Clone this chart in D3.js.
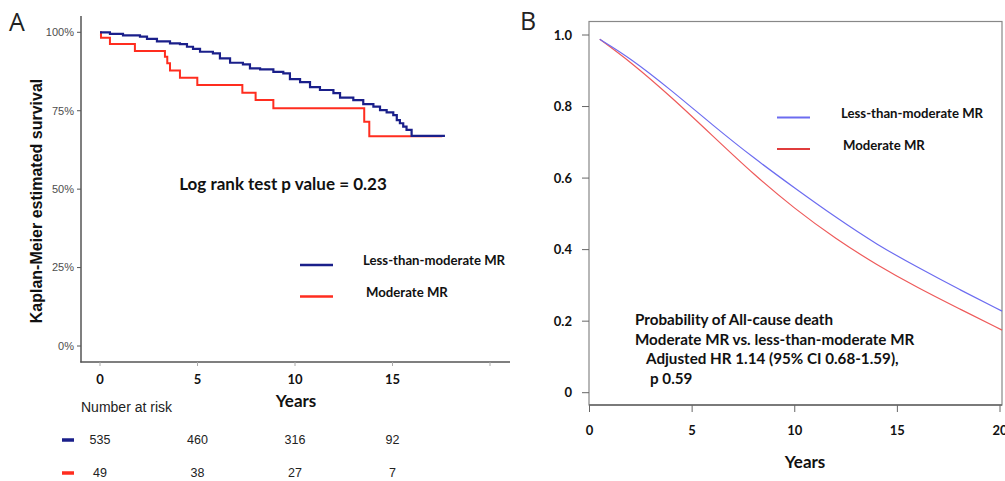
<!DOCTYPE html>
<html><head><meta charset="utf-8">
<script src="https://cdn.jsdelivr.net/npm/d3@7"></script>
<style>body{margin:0;background:#fff}svg{display:block}</style>
</head><body>
<svg id="c" width="1005" height="481"></svg>
<script>
// ---------- Panel A data (Kaplan-Meier) ----------
const kmTimesBlue = [0,0.51,1.18,2.05,2.41,2.92,3.59,4.10,4.46,4.77,5.13,5.79,6.15,6.67,7.33,7.69,8.21,8.89,9.40,9.74,10.26,10.77,11.28,11.97,12.31,12.99,13.50,14.02,14.36,14.70,15.04,15.22,15.38,15.55,15.72,15.98,17.69];
const kmSurvBlue  = [1.0,0.995,0.990,0.986,0.979,0.971,0.965,0.962,0.954,0.947,0.938,0.933,0.917,0.903,0.898,0.885,0.882,0.874,0.869,0.851,0.841,0.825,0.816,0.806,0.792,0.784,0.771,0.763,0.752,0.745,0.736,0.720,0.710,0.699,0.689,0.670,0.670];
const kmTimesRed = [0,0.05,0.51,1.79,3.33,3.45,3.59,4.10,4.99,7.30,7.98,8.89,13.55,13.81,17.55];
const kmSurvRed  = [1.0,0.983,0.963,0.940,0.922,0.901,0.878,0.855,0.832,0.807,0.784,0.758,0.715,0.669,0.669];
const kmYTicks = [0,0.25,0.5,0.75,1];
const kmXTicks = [0,5,10,15,20];
const kmXLabels = ["0","5","10","15",""];
const riskTimes = [0,5,10,15];
const riskBlue = [535,460,316,92];
const riskRed = [49,38,27,7];
const seriesNames = ["Less-than-moderate MR","Moderate MR"];

// ---------- Panel B data (adjusted curves) ----------
const bTimes = [0.5,2,4,6,8,10,12,14,16,18,20.1];
const bBlue  = [0.988,0.935,0.845,0.748,0.656,0.572,0.490,0.414,0.350,0.289,0.228];
const bRed   = [0.988,0.925,0.826,0.718,0.610,0.514,0.430,0.357,0.293,0.235,0.175];
const bYTicks = [0,0.2,0.4,0.6,0.8,1.0];
const bYLabels = ["0","0.2","0.4","0.6","0.8","1.0"];
const bXTicks = [0,5,10,15,20];
const bTextLines = ["Probability of All-cause death","Moderate MR vs. less-than-moderate MR","Adjusted HR 1.14 (95% CI 0.68-1.59),","p 0.59"];

const svg = d3.select("#c");
const calib = "Lato, 'Open Sans', sans-serif";
const arial = "'Liberation Sans', Arial, sans-serif";

// ================= PANEL A =================
const xA = d3.scaleLinear().domain([0,20]).range([100,490]);
const yA = d3.scaleLinear().domain([0,1]).range([346,32.3]);
const gA = svg.append("g");

gA.append("text").attr("x",9).attr("y",31).text("A")
  .style("font-family","'Open Sans', sans-serif").style("font-size","25px").style("fill","#222");

gA.append("line").attr("x1",81).attr("x2",81).attr("y1",16).attr("y2",362.5).attr("stroke","#555").attr("stroke-width",1.5);
gA.append("line").attr("x1",80.3).attr("x2",510).attr("y1",362).attr("y2",362).attr("stroke","#555").attr("stroke-width",1.5);

kmYTicks.forEach(v=>{
  gA.append("line").attr("x1",77).attr("x2",81).attr("y1",yA(v)).attr("y2",yA(v)).attr("stroke","#555").attr("stroke-width",1);
  gA.append("text").attr("x",74).attr("y",yA(v)).attr("dy","0.35em").attr("text-anchor","end")
    .text(d3.format(".0%")(v)).style("font-family",arial).style("font-size","11px").style("fill","#4d4d4d");
});
kmXTicks.forEach((v,i)=>{
  gA.append("line").attr("x1",xA(v)).attr("x2",xA(v)).attr("y1",362).attr("y2",366).attr("stroke","#aaa").attr("stroke-width",1);
  gA.append("text").attr("x",xA(v)).attr("y",379).attr("dy","0.35em").attr("text-anchor","middle")
    .text(kmXLabels[i]).style("font-family",calib).style("font-weight","bold").style("font-size","13px").style("fill","#111");
});
gA.append("text").attr("x",296).attr("y",401).attr("dy","0.35em").attr("text-anchor","middle").text("Years")
  .style("font-family",calib).style("font-weight","bold").style("font-size","17px").style("fill","#111");
gA.append("text").attr("transform","translate(36,201) rotate(-90)").attr("dy","0.35em").attr("text-anchor","middle")
  .text("Kaplan-Meier estimated survival").style("font-family",arial).style("font-weight","bold").style("font-size","16px").style("fill","#111");

const kmLine = d3.line().x(d=>xA(d[0])).y(d=>yA(d[1])).curve(d3.curveStepAfter);
gA.append("path").datum(kmTimesRed.map((t,i)=>[t,kmSurvRed[i]])).attr("d",kmLine)
  .attr("fill","none").attr("stroke","#ff2d1f").attr("stroke-width",2);
gA.append("path").datum(kmTimesBlue.map((t,i)=>[t,kmSurvBlue[i]])).attr("d",kmLine)
  .attr("fill","none").attr("stroke","#1a1f8a").attr("stroke-width",2.2);

gA.append("text").attr("x",283).attr("y",184).attr("dy","0.35em").attr("text-anchor","middle")
  .text("Log rank test p value = 0.23").style("font-family",calib).style("font-weight","bold").style("font-size","17px").style("fill","#111");

gA.append("line").attr("x1",300).attr("x2",333).attr("y1",265).attr("y2",265).attr("stroke","#1a1f8a").attr("stroke-width",2.5);
gA.append("line").attr("x1",300).attr("x2",333).attr("y1",296.5).attr("y2",296.5).attr("stroke","#ff2d1f").attr("stroke-width",2.5);
gA.append("text").attr("x",363).attr("y",260).attr("dy","0.35em").text(seriesNames[0])
  .style("font-family",calib).style("font-weight","bold").style("font-size","13.2px").style("fill","#111");
gA.append("text").attr("x",366).attr("y",292.5).attr("dy","0.35em").text(seriesNames[1])
  .style("font-family",calib).style("font-weight","bold").style("font-size","13.2px").style("fill","#111");

gA.append("text").attr("x",81).attr("y",407).attr("dy","0.35em").text("Number at risk")
  .style("font-family",arial).style("font-size","14px").style("fill","#222");
gA.append("line").attr("x1",62).attr("x2",74).attr("y1",440).attr("y2",440).attr("stroke","#1a1f8a").attr("stroke-width",3.5);
gA.append("line").attr("x1",62).attr("x2",74).attr("y1",473).attr("y2",473).attr("stroke","#ff2d1f").attr("stroke-width",3.5);
riskTimes.forEach((t,i)=>{
  gA.append("text").attr("x",xA(t)).attr("y",440).attr("dy","0.35em").attr("text-anchor","middle").text(riskBlue[i])
    .style("font-family",arial).style("font-size","12.5px").style("fill","#222");
  gA.append("text").attr("x",xA(t)).attr("y",473).attr("dy","0.35em").attr("text-anchor","middle").text(riskRed[i])
    .style("font-family",arial).style("font-size","12.5px").style("fill","#222");
});

// ================= PANEL B =================
const xB = d3.scaleLinear().domain([0,20]).range([589.5,1000]);
const yB = d3.scaleLinear().domain([0,1]).range([392.7,35]);
const gB = svg.append("g");
gB.append("text").attr("x",520).attr("y",30).text("B")
  .style("font-family","'Open Sans', sans-serif").style("font-size","25px").style("fill","#222");

gB.append("rect").attr("x",589).attr("y",21.5).attr("width",413).attr("height",383.5)
  .attr("fill","none").attr("stroke","#888").attr("stroke-width",1.2);
gB.append("line").attr("x1",589).attr("x2",1002).attr("y1",405).attr("y2",405).attr("stroke","#666").attr("stroke-width",1.5);

bYTicks.forEach((v,i)=>{
  gB.append("line").attr("x1",582).attr("x2",589).attr("y1",yB(v)).attr("y2",yB(v)).attr("stroke","#666").attr("stroke-width",1);
  gB.append("text").attr("x",572).attr("y",yB(v)).attr("dy","0.35em").attr("text-anchor","end").text(bYLabels[i])
    .style("font-family",calib).style("font-weight","bold").style("font-size","13px").style("fill","#111");
});
bXTicks.forEach(v=>{
  gB.append("line").attr("x1",xB(v)).attr("x2",xB(v)).attr("y1",405).attr("y2",412).attr("stroke","#666").attr("stroke-width",1);
  gB.append("text").attr("x",xB(v)).attr("y",430).attr("dy","0.35em").attr("text-anchor","middle").text(v)
    .style("font-family",calib).style("font-weight","bold").style("font-size","13px").style("fill","#111");
});
gB.append("text").attr("x",805).attr("y",462).attr("dy","0.35em").attr("text-anchor","middle").text("Years")
  .style("font-family",calib).style("font-weight","bold").style("font-size","17px").style("fill","#111");

const bLine = d3.line().x(d=>xB(d[0])).y(d=>yB(d[1])).curve(d3.curveBasis);
gB.append("path").datum(bTimes.map((t,i)=>[t,bRed[i]])).attr("d",bLine)
  .attr("fill","none").attr("stroke","#ee5a5a").attr("stroke-width",1.2);
gB.append("path").datum(bTimes.map((t,i)=>[t,bBlue[i]])).attr("d",bLine)
  .attr("fill","none").attr("stroke","#6c6cf0").attr("stroke-width",1.2);

gB.append("line").attr("x1",777).attr("x2",810).attr("y1",117.5).attr("y2",117.5).attr("stroke","#6c6cf0").attr("stroke-width",2.2);
gB.append("line").attr("x1",777).attr("x2",810).attr("y1",149).attr("y2",149).attr("stroke","#e03c3c").attr("stroke-width",2.2);
gB.append("text").attr("x",841).attr("y",113).attr("dy","0.35em").text(seriesNames[0])
  .style("font-family",calib).style("font-weight","bold").style("font-size","13.2px").style("fill","#111");
gB.append("text").attr("x",843).attr("y",145).attr("dy","0.35em").text(seriesNames[1])
  .style("font-family",calib).style("font-weight","bold").style("font-size","13.2px").style("fill","#111");

const bTextX = [635,635,646,650];
const bTextY = [320,340,359,379];
bTextLines.forEach((s,i)=>{
  gB.append("text").attr("x",bTextX[i]).attr("y",bTextY[i]).attr("dy","0.35em").text(s)
    .style("font-family",calib).style("font-weight","bold").style("font-size","15.2px").style("fill","#111");
});
</script>
</body></html>
